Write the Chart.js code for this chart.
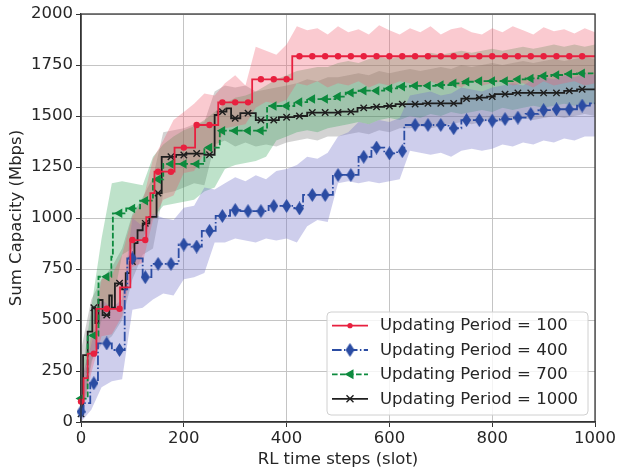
<!DOCTYPE html>
<html><head><meta charset="utf-8">
<script src="https://cdn.jsdelivr.net/npm/chart.js@4.4.0/dist/chart.umd.min.js"></script>
<style>html,body{margin:0;padding:0;background:#fff;}#wrap{width:618px;height:472px;}</style>
</head><body><div id="wrap"><canvas id="c" width="618" height="472"></canvas></div>
<script>
// ---------- DATA ----------
const seriesLabels = ['Updating Period = 100','Updating Period = 400','Updating Period = 700','Updating Period = 1000'];
const xTicks = [0,200,400,600,800,1000];
const yTicks = [0,250,500,750,1000,1250,1500,1750,2000];

// step change points (time step where value changes, new value)
const redStepX = [0,5,13,30,76,96,127,135,143,182,222,267,333,411,1000];
const redStepY = [100,215,335,555,660,892,1004,1122,1227,1345,1456,1567,1680,1793,1793];
const blueStepX = [0,5,18,33,60,85,90,120,137,190,215,235,262,290,310,365,415,432,490,540,565,590,615,629,715,740,790,815,840,865,890,915,965,990,1000];
const blueStepY = [50,93,190,385,353,650,802,710,775,870,860,937,1010,1039,1034,1059,1047,1113,1211,1300,1345,1317,1328,1456,1440,1480,1477,1485,1492,1510,1529,1533,1551,1562,1562];
const greenStepX = [0,13,34,59,62,88,115,140,160,240,270,362,415,440,495,515,540,590,615,640,690,720,745,770,840,865,890,915,940,965,1000];
const greenStepY = [115,424,712,810,1023,1047,1085,1190,1265,1345,1428,1549,1568,1583,1595,1614,1624,1635,1644,1648,1652,1660,1668,1671,1680,1684,1696,1701,1706,1709,1709];
const blackStepX = [0,4,13,22,28,34,42,55,60,66,80,87,95,104,110,120,133,147,157,185,205,240,260,266,283,292,310,340,385,415,440,505,538,565,590,612,665,740,770,790,805,840,940,965,1000];
const blackStepY = [40,328,443,560,485,598,524,620,560,680,650,730,786,877,940,974,1006,1122,1300,1309,1316,1310,1505,1521,1537,1489,1514,1480,1494,1500,1517,1521,1540,1545,1549,1558,1562,1585,1590,1595,1607,1613,1623,1631,1631];

// steps where markers are drawn
const markerSteps = [0,25,50,75,100,125,150,175,200,225,250,275,300,325,350,375,400,425,450,475,500,525,550,575,600,625,650,675,700,725,750,775,800,825,850,875,900,925,950,975];

// shaded band envelopes
const bandSteps = [0,20,40,60,80,100,120,140,160,180,200,220,240,260,280,300,320,340,360,380,400,420,440,460,480,500,520,540,560,580,600,620,640,660,680,700,720,740,760,780,800,820,840,860,880,900,920,940,960,980,1000];
const redUpper = [180,420,700,720,820,1010,1080,1290,1380,1480,1520,1560,1610,1600,1660,1700,1650,1840,1820,1800,1850,1940,1920,1930,1900,1940,1910,1925,1900,1945,1920,1900,1930,1910,1940,1900,1925,1935,1910,1900,1930,1910,1940,1920,1900,1935,1915,1925,1905,1930,1910];
const redLower = [0,240,420,430,520,760,780,990,1090,1110,1220,1230,1320,1320,1440,1450,1460,1540,1570,1560,1580,1660,1650,1670,1640,1660,1650,1670,1640,1660,1650,1670,1660,1640,1670,1650,1660,1640,1670,1650,1660,1670,1650,1660,1640,1670,1650,1660,1670,1650,1660];
const blueUpper = [200,380,600,560,600,1000,960,1020,1000,990,1050,1060,1150,1140,1170,1200,1180,1210,1190,1230,1240,1260,1300,1290,1320,1400,1420,1470,1460,1480,1470,1490,1600,1610,1620,1600,1610,1640,1630,1620,1640,1650,1660,1650,1680,1690,1680,1700,1690,1710,1700];
const blueLower = [0,60,170,200,210,550,560,600,630,620,700,710,730,880,880,900,890,880,900,890,900,880,960,990,980,1170,1180,1170,1180,1170,1180,1190,1330,1320,1310,1320,1300,1330,1340,1330,1340,1360,1350,1370,1360,1380,1370,1390,1380,1400,1400];
const greenUpper = [200,560,900,1170,1180,1170,1160,1300,1360,1400,1430,1450,1480,1520,1560,1590,1600,1620,1650,1680,1700,1720,1730,1740,1740,1760,1770,1760,1780,1790,1780,1790,1800,1790,1810,1800,1810,1820,1810,1820,1830,1820,1830,1840,1830,1840,1850,1840,1850,1840,1850];
const greenLower = [0,280,500,560,820,850,900,1000,1060,1070,1080,1090,1130,1150,1240,1260,1270,1280,1300,1380,1400,1420,1430,1420,1440,1450,1460,1470,1460,1480,1490,1480,1500,1490,1510,1500,1520,1510,1520,1530,1520,1540,1530,1540,1550,1540,1550,1560,1550,1560,1560];
const blackUpper = [350,600,700,760,850,1020,1100,1200,1420,1430,1440,1460,1470,1620,1650,1640,1650,1620,1630,1640,1650,1660,1680,1670,1690,1690,1700,1710,1700,1720,1710,1720,1730,1720,1730,1740,1730,1750,1740,1750,1760,1750,1760,1770,1760,1770,1780,1770,1780,1790,1780];
const blackLower = [0,300,380,420,500,700,820,850,1120,1130,1150,1170,1160,1360,1380,1350,1370,1350,1360,1350,1370,1380,1390,1380,1400,1400,1410,1420,1410,1430,1420,1440,1440,1450,1440,1450,1460,1470,1460,1470,1480,1470,1480,1490,1480,1490,1500,1490,1500,1510,1500];

// ---------- HELPERS ----------
const FONT = "'DejaVu Sans', sans-serif";
const TXT = '#262626';
const C_RED = '#e8203f', C_BLUE = '#2b4ca3', C_GREEN = '#0d8a3e', C_BLACK = '#1e1e1e';
function pts(xs, ys){ return xs.map((x,i)=>({x:x, y:ys[i]})); }
function stepAt(xs, ys, x){ let v = ys[0]; for (let i=0;i<xs.length;i++){ if (xs[i] <= x) v = ys[i]; } return v; }
function markerPts(xs, ys){ return markerSteps.map(s=>({x:s, y:stepAt(xs, ys, s)})); }
function diamondImg(color, w, h){
  const c = document.createElement('canvas'); c.width = w; c.height = h;
  const g = c.getContext('2d'); g.fillStyle = color;
  g.beginPath(); g.moveTo(w/2,0); g.lineTo(w,h/2); g.lineTo(w/2,h); g.lineTo(0,h/2); g.closePath(); g.fill();
  return c;
}
const blueDiamond = diamondImg(C_BLUE, 9, 14);

function band(up, lo, color){
  return [
    {data: pts(bandSteps, up), fill: '+1', backgroundColor: color, borderWidth: 0, borderColor: 'rgba(0,0,0,0)', pointRadius: 0, tension: 0},
    {data: pts(bandSteps, lo), fill: false, borderWidth: 0, borderColor: 'rgba(0,0,0,0)', pointRadius: 0, tension: 0}
  ];
}
function stepLine(xs, ys, color, dash){
  return {data: pts(xs, ys), stepped: true, borderColor: color, borderWidth: 1.8, borderDash: dash, pointRadius: 0, fill: false};
}
function markers(xs, ys, style){
  return Object.assign({data: markerPts(xs, ys), showLine: false, fill: false, clip: false}, style);
}

const DASH_BLUE = [9.6,2.4,1.5,2.4];
const DASH_GREEN = [5.6,2.4];

const datasets = [].concat(
  band(redUpper, redLower, 'rgba(238,90,110,0.32)'),
  band(blueUpper, blueLower, 'rgba(110,110,200,0.34)'),
  band(greenUpper, greenLower, 'rgba(40,160,80,0.30)'),
  band(blackUpper, blackLower, 'rgba(110,110,110,0.30)'),
  [
    stepLine(redStepX, redStepY, C_RED, []),
    markers(redStepX, redStepY, {pointStyle:'circle', pointRadius:3.2, backgroundColor:C_RED, borderColor:C_RED, borderWidth:0}),
    stepLine(blueStepX, blueStepY, C_BLUE, DASH_BLUE),
    markers(blueStepX, blueStepY, {pointStyle: blueDiamond, pointRadius:6}),
    stepLine(greenStepX, greenStepY, C_GREEN, DASH_GREEN),
    markers(greenStepX, greenStepY, {pointStyle:'triangle', rotation:-90, pointRadius:5.5, backgroundColor:C_GREEN, borderColor:C_GREEN, borderWidth:0}),
    stepLine(blackStepX, blackStepY, C_BLACK, []),
    markers(blackStepX, blackStepY, {pointStyle:'crossRot', pointRadius:4.5, backgroundColor:C_BLACK, borderColor:C_BLACK, borderWidth:1.4})
  ]
);

// frame (top/right spines)
const framePlugin = {
  id: 'frame',
  afterDatasetsDraw(chart){
    const a = chart.chartArea, ctx = chart.ctx;
    ctx.save(); ctx.strokeStyle = '#333'; ctx.lineWidth = 1.25;
    ctx.strokeRect(a.left, a.top, a.right - a.left, a.bottom - a.top);
    ctx.restore();
  }
};

// matplotlib-like legend
const legendPlugin = {
  id: 'mplLegend',
  afterDraw(chart){
    const ctx = chart.ctx;
    const bx = 327, by = 312, bw = 261, bh = 103, r = 4;
    ctx.save();
    ctx.beginPath();
    ctx.moveTo(bx+r,by); ctx.lineTo(bx+bw-r,by); ctx.quadraticCurveTo(bx+bw,by,bx+bw,by+r);
    ctx.lineTo(bx+bw,by+bh-r); ctx.quadraticCurveTo(bx+bw,by+bh,bx+bw-r,by+bh);
    ctx.lineTo(bx+r,by+bh); ctx.quadraticCurveTo(bx,by+bh,bx,by+bh-r);
    ctx.lineTo(bx,by+r); ctx.quadraticCurveTo(bx,by,bx+r,by); ctx.closePath();
    ctx.fillStyle = 'rgba(255,255,255,0.82)'; ctx.fill();
    ctx.strokeStyle = '#d0d0d0'; ctx.lineWidth = 1; ctx.stroke();
    const rows = [325.7, 350, 374.3, 398.8];
    const cols = [C_RED, C_BLUE, C_GREEN, C_BLACK];
    const dashes = [[], DASH_BLUE, DASH_GREEN, []];
    for (let i=0;i<4;i++){
      const y = rows[i];
      ctx.setLineDash(dashes[i]); ctx.strokeStyle = cols[i]; ctx.lineWidth = 1.8;
      ctx.beginPath(); ctx.moveTo(332, y); ctx.lineTo(368, y); ctx.stroke();
      ctx.setLineDash([]);
      ctx.fillStyle = cols[i]; ctx.strokeStyle = cols[i];
      const mx = 350;
      if (i===0){ ctx.beginPath(); ctx.arc(mx,y,2.6,0,Math.PI*2); ctx.fill(); }
      else if (i===1){ ctx.drawImage(blueDiamond, mx-4.5, y-7); }
      else if (i===2){ ctx.beginPath(); ctx.moveTo(mx-5.5,y); ctx.lineTo(mx+3.5,y-5); ctx.lineTo(mx+3.5,y+5); ctx.closePath(); ctx.fill(); }
      else { ctx.lineWidth = 1.4; ctx.beginPath(); ctx.moveTo(mx-3.5,y-3.5); ctx.lineTo(mx+3.5,y+3.5); ctx.moveTo(mx+3.5,y-3.5); ctx.lineTo(mx-3.5,y+3.5); ctx.stroke(); }
      ctx.fillStyle = TXT; ctx.font = '16.5px ' + FONT; ctx.textBaseline = 'middle'; ctx.textAlign = 'left';
      ctx.fillText(seriesLabels[i], 380, y + 0.5);
    }
    ctx.restore();
  }
};

const plainTick = v => String(v);

new Chart(document.getElementById('c'), {
  type: 'line',
  data: { datasets: datasets },
  options: {
    responsive: false,
    animation: false,
    layout: { padding: { top: 14, right: 22, left: 0, bottom: 0 } },
    plugins: {
      legend: { display: false },
      tooltip: { enabled: false },
      filler: { propagate: false, drawTime: 'beforeDatasetsDraw' }
    },
    scales: {
      x: {
        type: 'linear', min: 0, max: 1000,
        afterBuildTicks(s){ s.ticks = xTicks.map(v=>({value:v})); },
        afterFit(s){ s.height = 50; },
        ticks: { color: TXT, font: { family: FONT, size: 16.5 }, maxRotation: 0, padding: 2, callback: plainTick },
        grid: { color: '#c4c4c4', lineWidth: 1, tickLength: 5, tickColor: '#333' },
        border: { color: '#333', width: 1.25 },
        title: { display: true, text: 'RL time steps (slot)', color: TXT, font: { family: FONT, size: 16.5 }, padding: { top: 0, bottom: 2 } }
      },
      y: {
        type: 'linear', min: 0, max: 2000,
        afterBuildTicks(s){ s.ticks = yTicks.map(v=>({value:v})); },
        afterFit(s){ s.width = 81; },
        ticks: { color: TXT, font: { family: FONT, size: 16.5 }, padding: 3, callback: plainTick },
        grid: { color: '#c4c4c4', lineWidth: 1, tickLength: 5, tickColor: '#333' },
        border: { color: '#333', width: 1.25 },
        title: { display: true, text: 'Sum Capacity (Mbps)', color: TXT, font: { family: FONT, size: 16.5 }, padding: { top: 7, bottom: 0 } }
      }
    }
  },
  plugins: [framePlugin, legendPlugin]
});
</script>
</body></html>
